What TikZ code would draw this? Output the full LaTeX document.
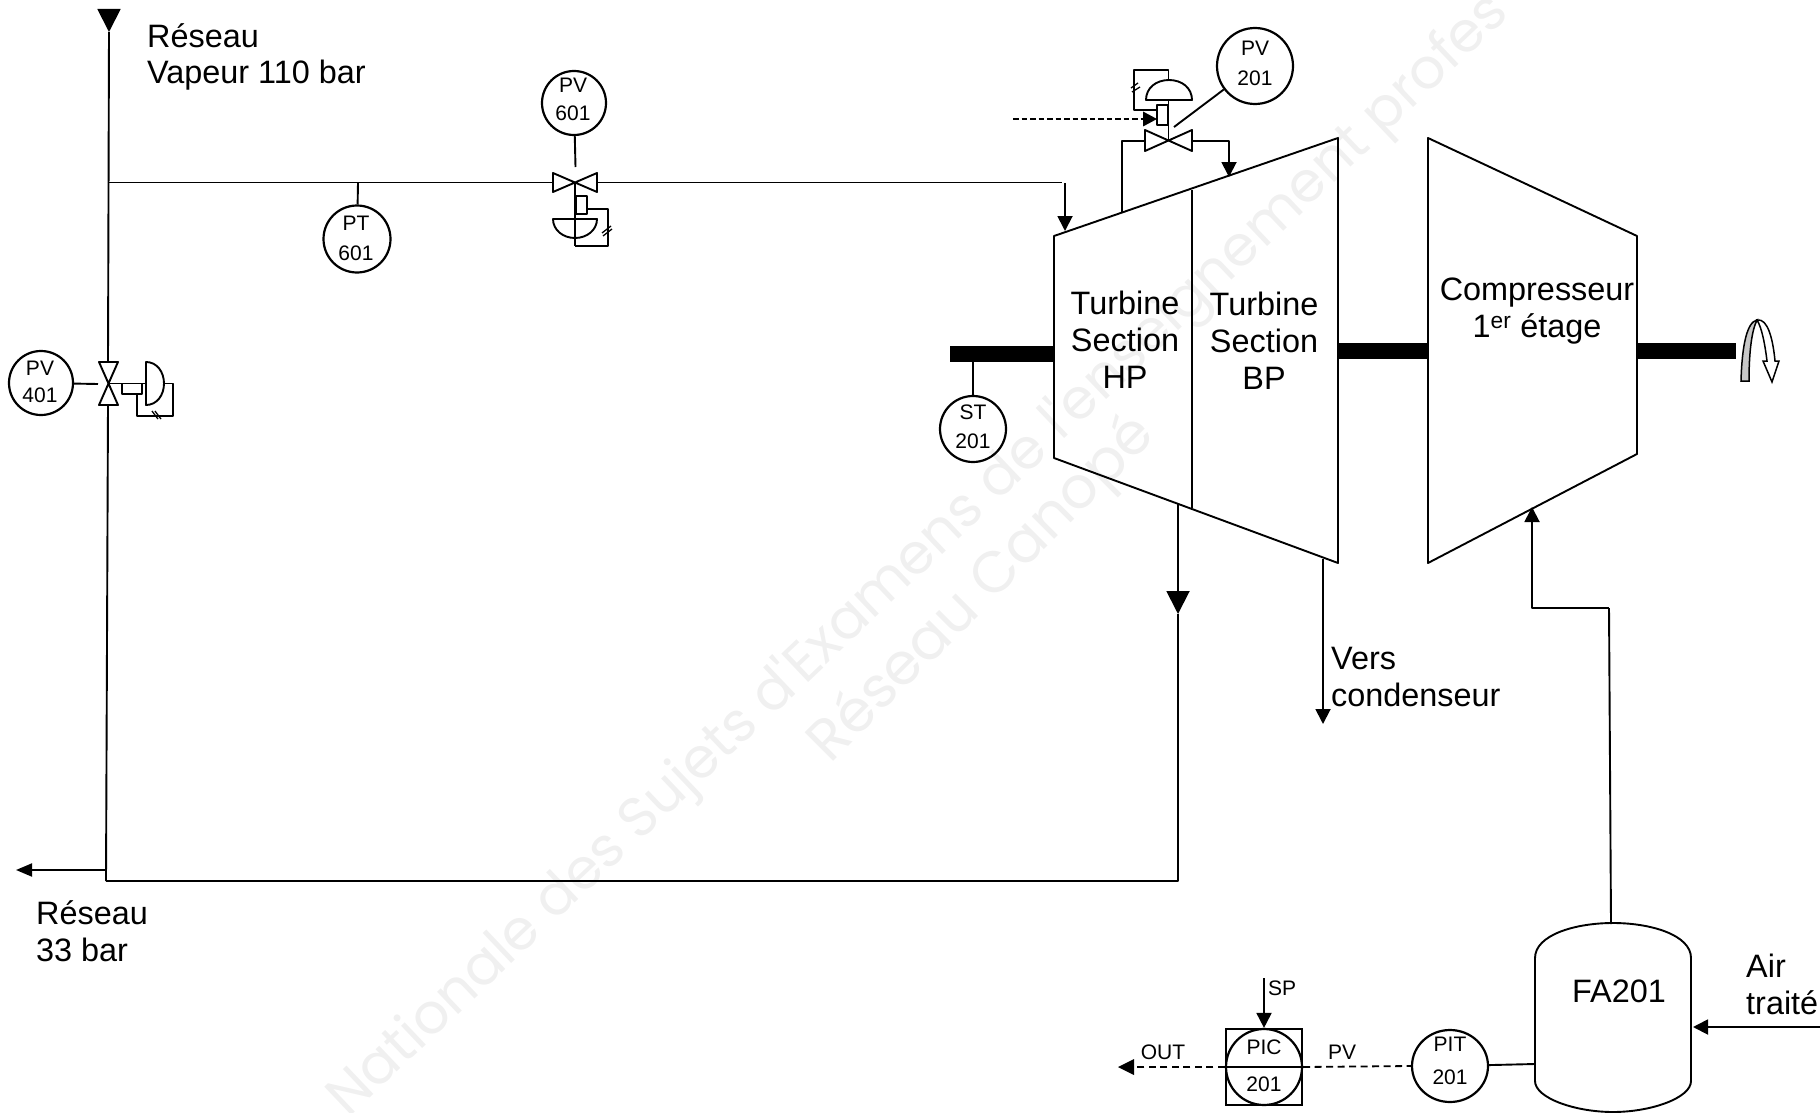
\documentclass[tikz,border=0pt]{standalone}
\usepackage{fontspec}
\setmainfont{Liberation Sans}
\newfontfamily\wmfont{Poppins}
\usetikzlibrary{arrows.meta,shapes.geometric}
\tikzset{
  x=1pt,y=-1pt,
  pipe/.style={line width=1.9pt,line join=round},
  thin line/.style={line width=1.3pt},
  arr/.style={-{Triangle[length=15pt,width=15pt]}},
  bigarr/.style={-{Triangle[length=23pt,width=23pt]}},
  inst/.style={circle,draw,line width=2.2pt,minimum size=64pt,inner sep=0pt},
  big/.style={font=\fontsize{32.4}{32.4}\selectfont,inner sep=0pt,text height=23pt,text depth=0pt},
  bigl/.style={big,anchor=west},
  small/.style={font=\fontsize{21}{21}\selectfont,inner sep=0pt,text height=15pt,text depth=0pt},
  shaft/.style={fill=black,draw=none},
  dashline/.style={line width=1.8pt,dash pattern=on 7pt off 4.5pt},
  wm/.style={font=\wmfont\fontsize{56}{56}\selectfont,text=black!6,inner sep=0pt},
}
\begin{document}
\begin{tikzpicture}
\useasboundingbox (0,0) rectangle (1820,1113);
\clip (0,0) rectangle (1820,1113);
% watermark
\node[wm,rotate=43.5,anchor=west] (wma) at (338,1108) {Nationale des Sujets d'Examens de l'enseignement profes};
\node[wm,rotate=45,anchor=center,font=\wmfont\fontsize{58}{58}\selectfont] (wmb) at (983,590) {Réseau Canopé};

% coordinates
\coordinate (top) at (109,10);
\coordinate (topt) at (109,32);
\coordinate (j1) at (109,182.5);
\coordinate (v4n) at (108,362);
\coordinate (v4c) at (108,383.5);
\coordinate (v4s) at (108,405);
\coordinate (v4w) at (98,384);
\coordinate (ret) at (106,881);
\coordinate (outj) at (106,870);
\coordinate (outt) at (16,870);
\coordinate (hpout) at (1178,504);
\coordinate (hpmid) at (1178,614);
\coordinate (hpret) at (1178,881);
\coordinate (v6w) at (553,182.5);
\coordinate (v6e) at (597,182.5);
\coordinate (v6c) at (575,182.5);
\coordinate (v6n) at (575.5,167);
\coordinate (pt6j) at (358,182.5);
\coordinate (in1a) at (1062,182.5);
\coordinate (in1b) at (1065,183);
\coordinate (in1c) at (1065,231);
\coordinate (v2w) at (1145,141);
\coordinate (v2e) at (1192,141);
\coordinate (v2c) at (1168.5,140.5);
\coordinate (by1a) at (1122,141);
\coordinate (by1b) at (1122,212);
\coordinate (by2a) at (1229,141);
\coordinate (by2b) at (1229,177);
\coordinate (ctl) at (1013,119);
\coordinate (ctlt) at (1143,119);
\coordinate (pv2end) at (1174,127);

% turbine
\coordinate (tl1) at (1054,236);
\coordinate (tl2) at (1054,458);
\coordinate (tr1) at (1338,138);
\coordinate (tr2) at (1338,563);
\coordinate (dv1) at (1192,190);
\coordinate (dv2) at (1192,508);
\draw[pipe] (tl1) -- (tr1) -- (tr2) -- (tl2) -- cycle;
\draw[line width=1.5pt] (dv1) -- (dv2);

% compressor
\coordinate (c1) at (1428,138);
\coordinate (c2) at (1637,236);
\coordinate (c3) at (1637,454);
\coordinate (c4) at (1428,563);
\draw[pipe] (c1) -- (c2) -- (c3) -- (c4) -- cycle;
\draw[line width=2.5pt] (c1) -- (c4);

% shafts
\fill[shaft] (950,346) rectangle (1055,362);
\fill[shaft] (1338,343) rectangle (1428,359);
\fill[shaft] (1637,343) rectangle (1736,359);

% rotation arrow
\draw[line width=1.5pt,fill=black!22] (1741,381) .. controls (1742,345) and (1747,322) .. (1757,320) .. controls (1752,330) and (1749,350) .. (1749,381) -- cycle;
\draw[line width=1.5pt,fill=white] (1757,320) .. controls (1768,318) and (1773,340) .. (1775,361) -- (1779,361) -- (1772,382) -- (1763,361) -- (1767,361) .. controls (1765,345) and (1762,328) .. (1757,320) -- cycle;

% main piping
\draw[pipe,bigarr] (top) -- (topt);
\draw[pipe] (topt) -- (v4n);
\draw[pipe] (v4s) -- (ret);
\draw[pipe] (ret) -- (hpret) -- (hpmid);
\draw[pipe,-{Triangle[length=16pt,width=13pt]}] (outj) -- (outt);
\draw[pipe] (j1) -- (v6w);
\draw[pipe] (v6e) -- (in1a);
\draw[pipe,arr] (in1b) -- (in1c);
\draw[pipe,bigarr] (hpout) -- (hpmid);

% valve 401
\draw[pipe,fill=white] (99,362) -- (118,362) -- (99,405) -- (118,405) -- cycle;
\draw[pipe] (v4c) -- (146,383.5);
\draw[pipe] (122,383.5) rectangle (142,394);
\draw[pipe] (146,362) .. controls (157,362) and (164,372) .. (164,383.5) .. controls (164,395) and (157,405) .. (146,405) -- cycle;
\draw[pipe] (164,383.5) -- (173,383.5) -- (173,416) -- (137,416) -- (137,394);
\draw[thin line] (152,411) -- (158,419) (155,411) -- (161,419);
\node[inst] (pv401) at (41,383) {};
\node[small] (pv401a) at (40,368) {PV};
\node[small] (pv401b) at (40,395) {401};
\draw[pipe] (pv401) -- (v4w);

% valve 601
\draw[pipe,fill=white] (553,173) -- (553,192) -- (597,173) -- (597,192) -- cycle;
\draw[pipe] (v6c) -- (575,246);
\draw[pipe] (576,196) rectangle (587,214);
\draw[pipe] (553,219) -- (597,219) .. controls (597,230) and (587,238) .. (575,238) .. controls (563,238) and (553,230) .. (553,219) -- cycle;
\draw[pipe] (575,246) -- (608,246) -- (608,209) -- (587,209);
\draw[thin line] (602,233) -- (611,226) (603,236) -- (612,229);
\node[inst] (pv601) at (574,103) {};
\node[small] (pv601a) at (573,85) {PV};
\node[small] (pv601b) at (573,113) {601};
\draw[pipe] (pv601) -- (v6n);

% PT601
\node[inst,minimum size=67pt] (pt601) at (357,239) {};
\node[small] (pt601a) at (356,223) {PT};
\node[small] (pt601b) at (356,253) {601};
\draw[pipe] (pt6j) -- (pt601);

% valve 201
\draw[pipe,fill=white] (1145,130) -- (1145,151) -- (1192,130) -- (1192,151) -- cycle;
\draw[pipe] (by1b) -- (by1a) -- (v2w);
\draw[pipe,arr] (v2e) -- (by2a) -- (by2b);
\draw[pipe] (v2c) -- (1168.5,70) -- (1134,70) -- (1134,110) -- (1157,110);
\draw[pipe,fill=white] (1157,105) rectangle (1168,125);
\draw[pipe,fill=white] (1146,100) -- (1192,100) .. controls (1192,88) and (1182,80) .. (1169,80) .. controls (1156,80) and (1146,88) .. (1146,100) -- cycle;
\draw[thin line] (1131,88) -- (1138,83) (1132,92) -- (1140,87);
\draw[line width=1.3pt,dash pattern=on 5.5pt off 3pt] (ctl) -- (ctlt);
\fill (1143,111.5) -- (1157,119) -- (1143,126.5) -- cycle;
\node[inst,minimum size=76pt] (pv201) at (1255,66) {};
\node[small] (pv201a) at (1255,48) {PV};
\node[small] (pv201b) at (1255,78) {201};
\draw[pipe] (pv201) -- (pv2end);

% ST201
\coordinate (stj) at (973,362);
\node[inst,minimum size=66pt] (st201) at (973,429) {};
\node[small] (st201a) at (973,412) {ST};
\node[small] (st201b) at (973,441) {201};
\draw[pipe] (stj) -- (st201);

% vers condenseur
\coordinate (cd1) at (1323,559);
\coordinate (cd2) at (1323,724);
\draw[pipe,arr] (cd1) -- (cd2);

% vessel
\coordinate (fa1) at (1535,958);
\coordinate (fa2) at (1535,1081);
\coordinate (fa3) at (1691,1081);
\coordinate (fa4) at (1691,958);
\draw[pipe] (fa1) -- (fa2) .. controls (1535,1098) and (1575,1112) .. (1613,1112) .. controls (1651,1112) and (1691,1098) .. (fa3) -- (fa4) .. controls (1691,935) and (1651,923) .. (1613,923) .. controls (1575,923) and (1535,935) .. (fa1) -- cycle;
\coordinate (fatop) at (1611,924);
\coordinate (faw) at (1535,1064);
\coordinate (fae) at (1693,1027);
\coordinate (airin) at (1820,1027);

% compressor inlet
\coordinate (ci1) at (1609,608);
\coordinate (ci2) at (1532,608);
\coordinate (ci3) at (1532,507);
\draw[pipe] (fatop) -- (ci1);
\draw[pipe,arr] (ci1) -- (ci2) -- (ci3);

% air
\draw[pipe,arr] (airin) -- (fae);

% PIT & PIC
\node[ellipse,draw,line width=2.2pt,minimum width=76pt,minimum height=72pt,inner sep=0pt] (pit201) at (1450,1066) {};
\node[small] (pit201a) at (1450,1044) {PIT};
\node[small] (pit201b) at (1450,1077) {201};
\draw[pipe] (pit201) -- (faw);
\node[draw,line width=2pt,minimum size=76pt,inner sep=0pt] (picb) at (1264,1067) {};
\node[circle,draw,line width=2.2pt,minimum size=76pt,inner sep=0pt] (pic201) at (1264,1067) {};
\node[small] (pic201a) at (1264,1047) {PIC};
\node[small] (pic201b) at (1264,1084) {201};
\draw[pipe] (pic201.west) -- (pic201.east);
\coordinate (spt) at (1264,978);
\coordinate (outend) at (1118,1067);
\draw[pipe,arr] (spt) -- (pic201.north);
\draw[dashline] (pic201.east) -- (pit201.west);
\draw[dashline] (pic201.west) -- (1134,1067);
\fill (1134,1059) -- (outend) -- (1134,1075) -- cycle;

% labels
\node[bigl] (t1) at (147,36) {Réseau};
\node[bigl] (t2) at (147,72) {Vapeur 110 bar};
\node[bigl] (t3) at (36,913) {Réseau};
\node[bigl] (t4) at (36,950) {33 bar};
\node[big] (t5) at (1125,303) {Turbine};
\node[big] (t6) at (1125,340) {Section};
\node[big] (t7) at (1125,377) {HP};
\node[big] (t8) at (1264,304) {Turbine};
\node[big] (t9) at (1264,341) {Section};
\node[big] (t10) at (1264,378) {BP};
\node[big] (t11) at (1537,289) {Compresseur};
\node[big] (t12) at (1537,326) {1\textsuperscript{er} étage};
\node[bigl] (t13) at (1331,658) {Vers};
\node[bigl] (t14) at (1331,695) {condenseur};
\node[big] (t15) at (1619,991) {FA201};
\node[bigl] (t16) at (1746,966) {Air};
\node[bigl] (t17) at (1746,1003) {traité};
\node[small,anchor=west] (t18) at (1268,988) {SP};
\node[small] (t19) at (1163,1052) {OUT};
\node[small] (t20) at (1342,1052) {PV};
\end{tikzpicture}
\end{document}
